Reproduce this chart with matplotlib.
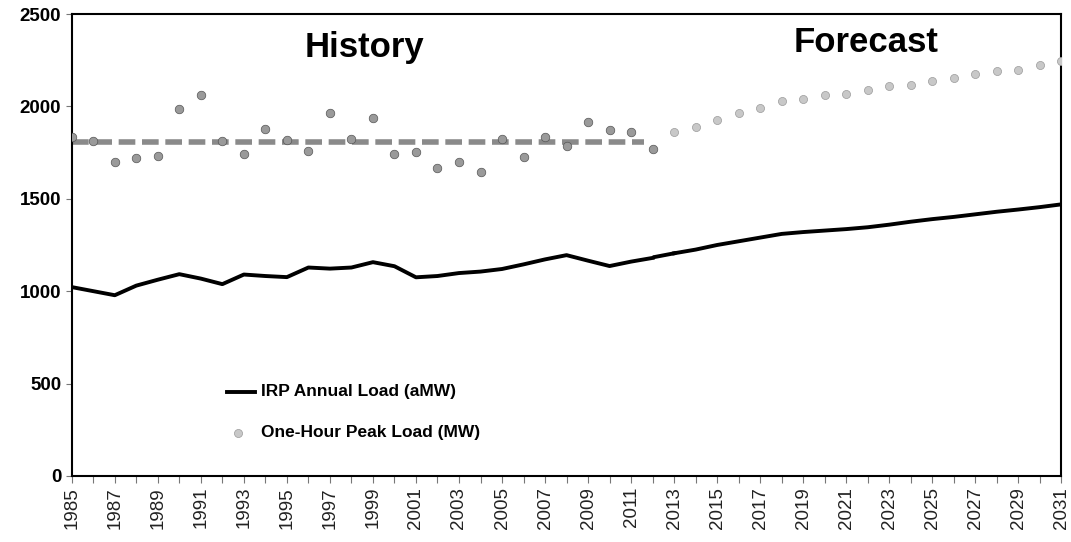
import numpy as np
import matplotlib.pyplot as plt

plt.rcParams['font.family'] = ['Liberation Sans', 'DejaVu Sans']

years = list(range(1985, 2032))

# annual load (aMW), history 1985-2012 and forecast 2012-2031
hist_years = list(range(1985, 2013))
hist_load = [1022, 1000, 978, 1030, 1062, 1092, 1068, 1038, 1090, 1082, 1076, 1128,
             1122, 1128, 1157, 1135, 1075, 1082, 1098, 1106, 1120, 1145, 1172, 1195,
             1165, 1136, 1160, 1180]
fc_years = list(range(2012, 2032))
fc_load = [1185, 1205, 1225, 1250, 1270, 1290, 1310, 1320, 1328, 1336, 1346, 1360,
           1376, 1390, 1402, 1416, 1430, 1442, 1455, 1470]

# one-hour peak load (MW)
peak = [1835, 1815, 1700, 1722, 1734, 1984, 2060, 1815, 1745, 1880, 1820, 1760,
        1962, 1826, 1940, 1740, 1755, 1668, 1700, 1647, 1826, 1728, 1837, 1788,
        1918, 1870, 1864, 1772, 1864, 1891, 1924, 1962, 1989, 2027, 2043, 2060,
        2070, 2087, 2109, 2114, 2136, 2152, 2174, 2190, 2196, 2223, 2245]
avg_years = [1985, 2011.6]
avg_peak = [1810, 1810]

fig, ax = plt.subplots(figsize=(10.71, 5.42), dpi=100)
fig.subplots_adjust(left=0.067, right=0.991, top=0.974, bottom=0.122)

ax.plot(avg_years, avg_peak, color='#8a8a8a', lw=4, ls=(0, (3, 1.2)), zorder=2)
ax.plot(hist_years, hist_load, color='black', lw=2.8, zorder=3)
ax.plot(fc_years[1:], fc_load[1:], color='black', lw=2.8, zorder=3)
ax.plot([2012.1, 2013], [fc_load[0], fc_load[1]], color='black', lw=2.8, zorder=3)
ax.scatter(years[:28], peak[:28], s=38, color='#9a9a9a', edgecolors='#555555',
           linewidths=0.5, zorder=4)
ax.scatter(years[28:], peak[28:], s=34, color='#c8c8c8', edgecolors='#9a9a9a',
           linewidths=0.5, zorder=4)

ax.set_xlim(1985, 2031)
ax.set_ylim(0, 2500)
ax.set_xticks(range(1985, 2032, 2))
ax.set_xticks(range(1986, 2031, 2), minor=True)
ax.set_xticklabels([str(y) for y in range(1985, 2032, 2)], rotation=90, fontsize=13.5,
                   color='#222222')
ax.set_yticks(range(0, 2501, 500))
ax.set_yticklabels([str(v) for v in range(0, 2501, 500)], fontsize=13.5, fontweight='bold')
ax.tick_params(axis='x', which='both', length=5, width=0.8, color='#777777', pad=3)
ax.tick_params(axis='y', length=4, width=0.8, color='#777777')
for s in ax.spines.values():
    s.set_linewidth(1.5)

ax.text(1998.6, 2320, 'History', fontsize=25, fontweight='bold', ha='center', va='center')
ax.text(2021.9, 2345, 'Forecast', fontsize=25, fontweight='bold', ha='center', va='center')

# legend
ax.plot([1992.2, 1993.5], [455, 455], color='black', lw=2.8)
ax.text(1993.8, 455, 'IRP Annual Load (aMW)', fontsize=12.5, fontweight='bold', va='center')
ax.scatter([1992.75], [233], s=34, color='#c8c8c8', edgecolors='#9a9a9a', linewidths=0.5)
ax.text(1993.8, 233, 'One-Hour Peak Load (MW)', fontsize=12.5, fontweight='bold', va='center')

fig.savefig('out.png', dpi=100)
